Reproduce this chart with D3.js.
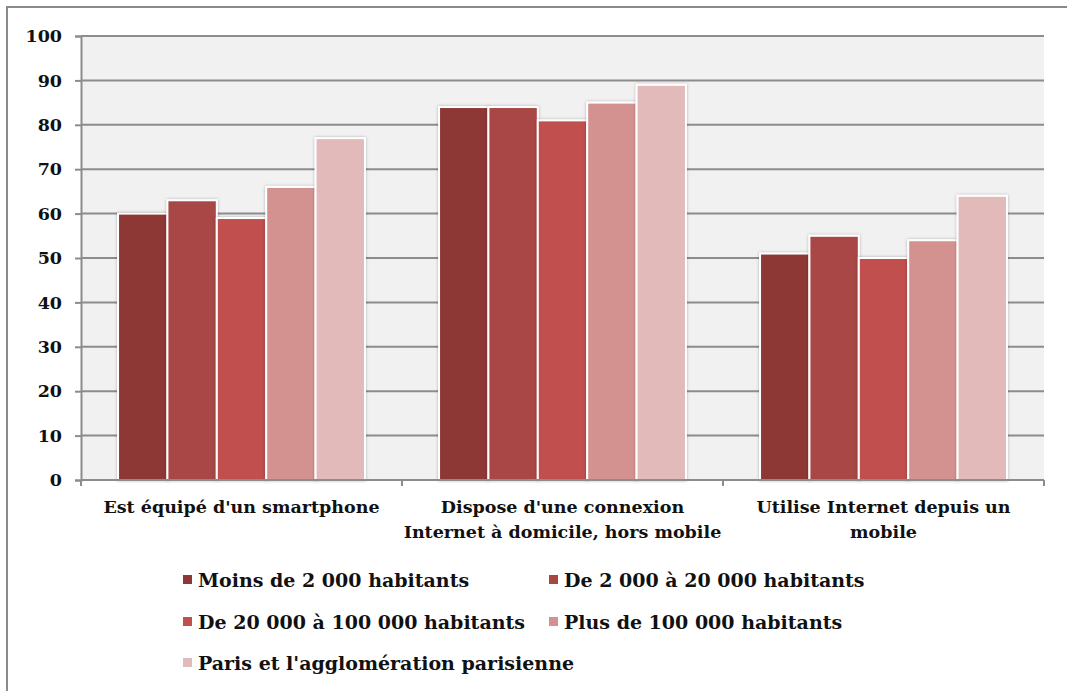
<!DOCTYPE html>
<html>
<head>
<meta charset="utf-8">
<script src="https://cdn.jsdelivr.net/npm/d3@7/dist/d3.min.js"></script>
<style>
  html, body { margin: 0; padding: 0; background: #ffffff; }
  svg { display: block; }
  text { font-family: "DejaVu Serif", serif; font-weight: bold; fill: #111; }
</style>
</head>
<body>
<svg id="chart" width="1067" height="691"></svg>
<script>
// Indicators (x categories), one label line per entry
const categories = [
  ["Est équipé d'un smartphone"],
  ["Dispose d'une connexion", "Internet à domicile, hors mobile"],
  ["Utilise Internet depuis un", "mobile"]
];
// Size of commune
const seriesNames = [
  "Moins de 2 000 habitants",
  "De 2 000 à 20 000 habitants",
  "De 20 000 à 100 000 habitants",
  "Plus de 100 000 habitants",
  "Paris et l'agglomération parisienne"
];
const seriesColors = ["#8e3836", "#a84644", "#c0504d", "#d39290", "#e1bab9"];
// Percentages, one array per series (same order as categories)
const moins2000   = [60, 84, 51];
const de2000      = [63, 84, 55];
const de20000     = [59, 81, 50];
const plus100000  = [66, 85, 54];
const paris       = [77, 89, 64];
const seriesValues = [moins2000, de2000, de20000, plus100000, paris];
const yTicks = [0, 10, 20, 30, 40, 50, 60, 70, 80, 90, 100];

const svg = d3.select("#chart");
const plot = { left: 81, right: 1044, top: 36, bottom: 480 };

// outer frame
svg.append("rect")
  .attr("x", 7).attr("y", 7).attr("width", 1080).attr("height", 700)
  .attr("fill", "#fff").attr("stroke", "#8a8a8a").attr("stroke-width", 2);

const defs = svg.append("defs");
const shadow = defs.append("filter").attr("id", "barShadow")
  .attr("x", "-10%").attr("y", "-10%").attr("width", "120%").attr("height", "120%");
shadow.append("feDropShadow")
  .attr("dx", 0).attr("dy", 0).attr("stdDeviation", 1.6)
  .attr("flood-color", "#000").attr("flood-opacity", 0.28);

const x0 = d3.scaleBand().domain(d3.range(categories.length))
  .range([plot.left, plot.right]).paddingInner(0).paddingOuter(0);
const x1 = d3.scaleBand().domain(d3.range(seriesNames.length))
  .range([0, x0.bandwidth()]).paddingInner(0).paddingOuter(0.75);
const y = d3.scaleLinear().domain([0, 100]).range([plot.bottom, plot.top]);

// plot background
svg.append("rect")
  .attr("x", plot.left).attr("y", plot.top)
  .attr("width", plot.right - plot.left).attr("height", plot.bottom - plot.top)
  .attr("fill", "#f1f1f1");

// gridlines
svg.append("g").selectAll("line").data(yTicks.filter(d => d > 0)).join("line")
  .attr("x1", plot.left).attr("x2", plot.right)
  .attr("y1", d => y(d)).attr("y2", d => y(d))
  .attr("stroke", "#8c8c8c").attr("stroke-width", 2);

// y axis
const yAxis = svg.append("g")
  .attr("transform", `translate(${plot.left},0)`)
  .call(d3.axisLeft(y).tickValues(yTicks).tickSize(6).tickPadding(13).tickFormat(d3.format("d")));
yAxis.select(".domain").attr("stroke", "#8c8c8c").attr("stroke-width", 2);
yAxis.selectAll(".tick line").attr("stroke", "#8c8c8c").attr("stroke-width", 2);
yAxis.selectAll(".tick text")
  .style("font-family", "'DejaVu Serif', serif").style("font-weight", "bold")
  .style("font-size", "17.5px").attr("fill", "#111");

// bars
const groups = svg.append("g").selectAll("g").data(categories).join("g")
  .attr("transform", (d, i) => `translate(${x0(i)},0)`);
groups.selectAll("rect")
  .data((d, i) => seriesValues.map((vals, s) => ({ s, v: vals[i] })))
  .join("rect")
  .attr("x", d => x1(d.s))
  .attr("y", d => y(d.v))
  .attr("width", x1.bandwidth())
  .attr("height", d => y(0) - y(d.v))
  .attr("fill", d => seriesColors[d.s])
  .attr("stroke", "#ffffff").attr("stroke-width", 2)
  .attr("filter", "url(#barShadow)");

// x axis
const xAxisG = svg.append("g").attr("transform", `translate(0,${plot.bottom})`);
xAxisG.append("line")
  .attr("x1", plot.left).attr("x2", plot.right)
  .attr("stroke", "#8c8c8c").attr("stroke-width", 2);
const xEdges = d3.range(categories.length + 1).map(i =>
  i < categories.length ? x0(i) : x0(i - 1) + x0.bandwidth());
xAxisG.selectAll("line.tick").data(xEdges).join("line")
  .attr("class", "tick")
  .attr("x1", d => d).attr("x2", d => d).attr("y1", 0).attr("y2", 6)
  .attr("stroke", "#8c8c8c").attr("stroke-width", 2);

// category labels
const catLabels = svg.append("g").selectAll("text").data(categories).join("text")
  .attr("x", (d, i) => x0(i) + x0.bandwidth() / 2)
  .attr("y", 513)
  .attr("text-anchor", "middle")
  .style("font-size", "17.5px");
catLabels.selectAll("tspan").data(d => d).join("tspan")
  .attr("x", function () { return d3.select(this.parentNode).attr("x"); })
  .attr("dy", (d, i) => i === 0 ? 0 : 25)
  .text(d => d);

// legend
const legendPos = [
  { x: 183, y: 580 }, { x: 549, y: 580 },
  { x: 183, y: 622 }, { x: 549, y: 622 },
  { x: 183, y: 663 }
];
const legend = svg.append("g").selectAll("g").data(seriesNames).join("g")
  .attr("transform", (d, i) => `translate(${legendPos[i].x},${legendPos[i].y})`);
legend.append("rect")
  .attr("x", 0).attr("y", -5).attr("width", 9).attr("height", 9)
  .attr("fill", (d, i) => seriesColors[i]);
legend.append("text")
  .attr("x", 15).attr("y", 6.5)
  .style("font-size", "19px")
  .text(d => d);
</script>
</body>
</html>
